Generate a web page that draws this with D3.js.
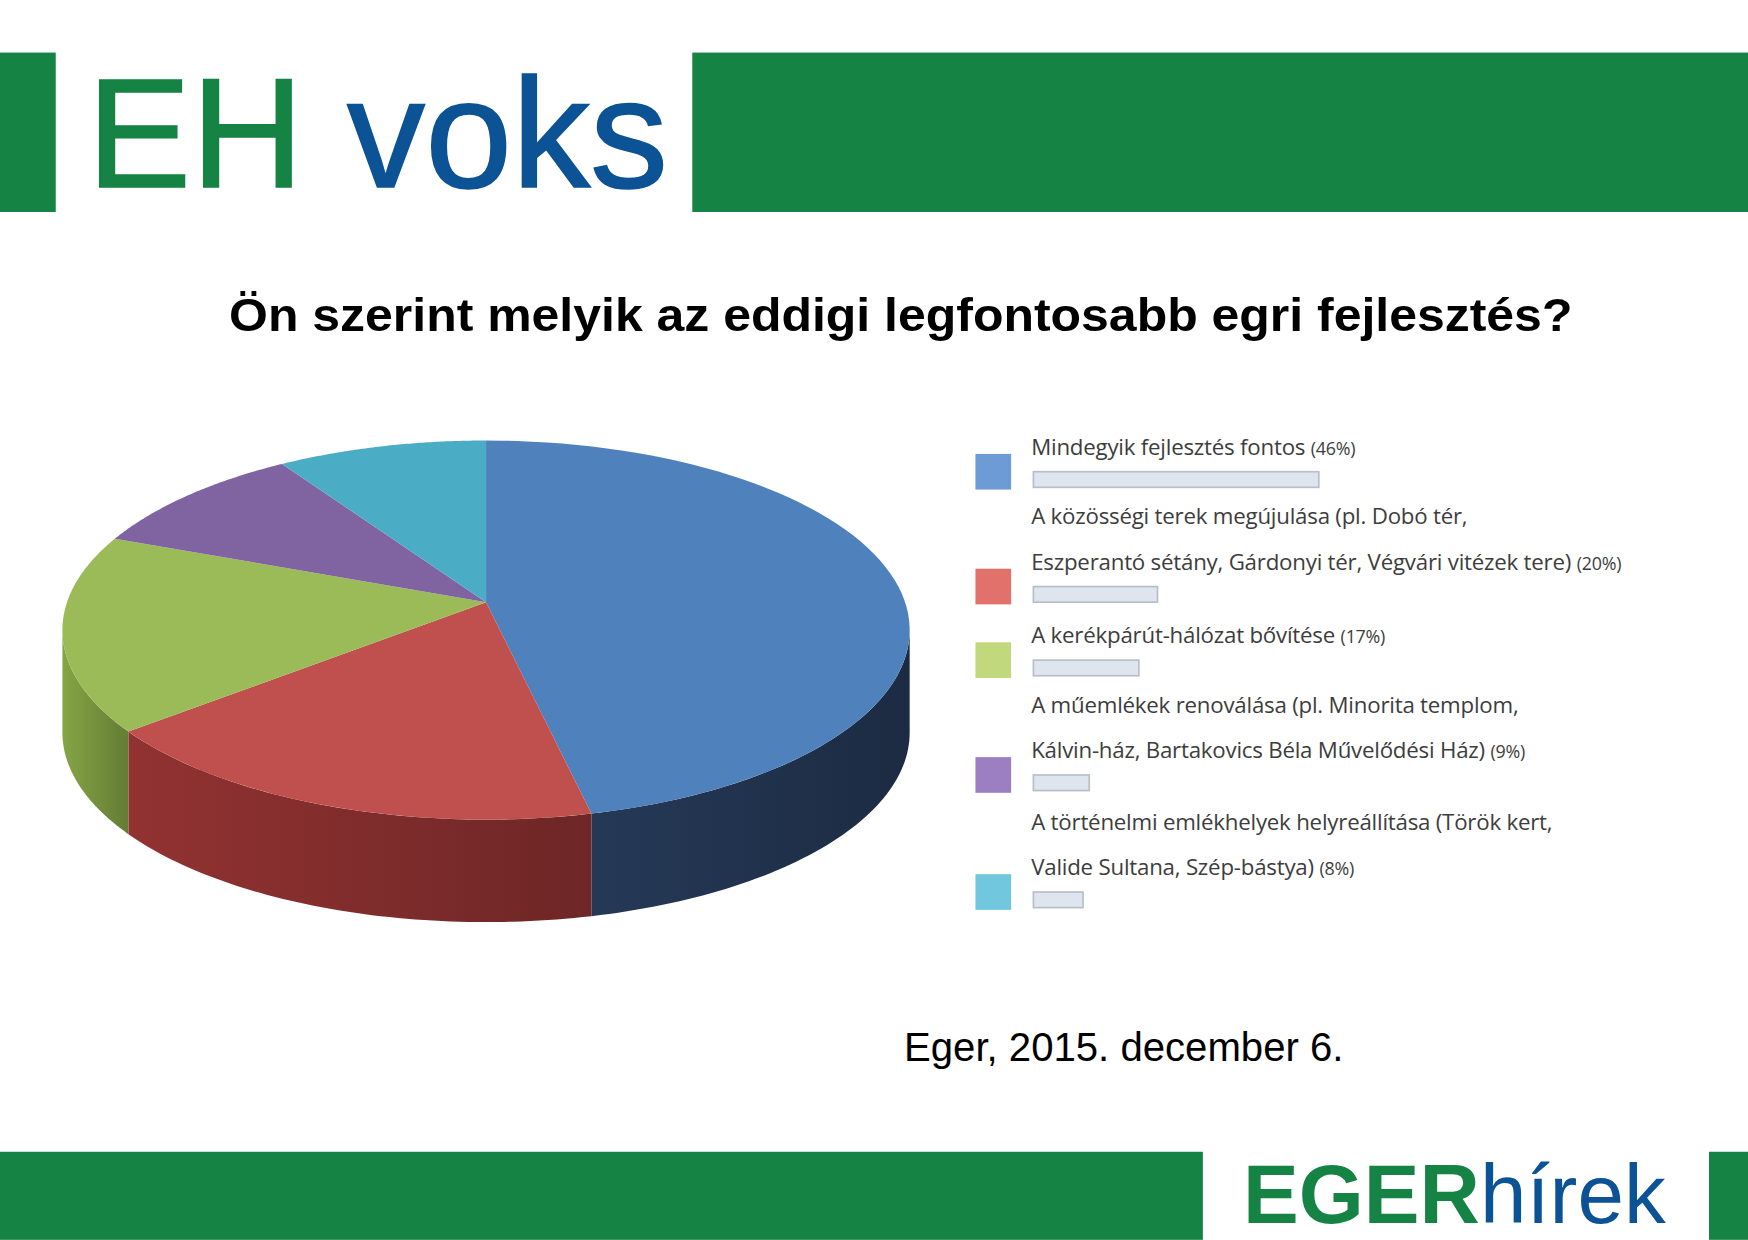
<!DOCTYPE html>
<html><head><meta charset="utf-8">
<script src="https://cdn.jsdelivr.net/npm/d3@7"></script>
<style>body{margin:0;background:#fff}</style>
</head><body>
<svg id="c" width="1748" height="1240" viewBox="0 0 1568 1112"></svg>
<script>
var labels = [
  ["Mindegyik fejlesztés fontos"],
  ["A közösségi terek megújulása (pl. Dobó tér,", "Eszperantó sétány, Gárdonyi tér, Végvári vitézek tere)"],
  ["A kerékpárút-hálózat bővítése"],
  ["A műemlékek renoválása (pl. Minorita templom,", "Kálvin-ház, Bartakovics Béla Művelődési Ház)"],
  ["A történelmi emlékhelyek helyreállítása (Török kert,", "Valide Sultana, Szép-bástya)"]
];
var values = [46, 20, 17, 9, 8];
var topColors = ["#4f81bd", "#c0504d", "#9bbb59", "#8064a2", "#4bacc6"];
var sideColors = ["#1f3049", "#7a2a2a", "#6f8a3a", "#5a4578", "#2f7a8e"];
var keyColors = ["#6d9bd6", "#e2706b", "#c1d97c", "#9b7fc2", "#71c7de"];

var svg = d3.select("#c");
var green = "#148343", blue = "#0b5394";

// header
svg.append("rect").attr("x",0).attr("y",47).attr("width",50).attr("height",143).attr("fill",green);
svg.append("rect").attr("x",621).attr("y",47).attr("width",947).attr("height",143).attr("fill",green);
var h = svg.append("text").attr("x",78).attr("y",168).style("font-family","Liberation Sans, Arial").style("font-size","140px")
  .attr("stroke-width",1.5);
h.append("tspan").attr("fill",green).attr("stroke",green).text("EH ");
h.append("tspan").attr("fill",blue).attr("stroke",blue).text("voks");

svg.append("text").attr("x",808).attr("y",297).attr("text-anchor","middle")
  .attr("textLength",1205).attr("lengthAdjust","spacingAndGlyphs")
  .style("font-family","Liberation Sans, Arial").style("font-weight","bold").style("font-size","42px")
  .text("Ön szerint melyik az eddigi legfontosabb egri fejlesztés?");

// pie
var cx = 436, cy = 565, rx = 380, ry = 170, depth = 92;
var pie = d3.pie().sort(null).value(function(d){return d;});
var arcs = pie(values);
function pt(a, dy){ return [cx + rx*Math.sin(a), cy - ry*Math.cos(a) + (dy||0)]; }
var defs = svg.append("defs");

// sides (front half only)
arcs.forEach(function(a, i){
  var a0 = Math.max(a.startAngle, Math.PI/2), a1 = Math.min(a.endAngle, Math.PI*1.5);
  if (a1 <= a0) return;
  var n = 60, top = [], bot = [];
  for (var k=0;k<=n;k++){ var t = a0 + (a1-a0)*k/n; top.push(pt(t)); bot.push(pt(t, depth)); }
  var g = defs.append("linearGradient").attr("id","sg"+i).attr("gradientUnits","userSpaceOnUse")
    .attr("x1",pt(a1)[0]).attr("x2",pt(a0)[0]).attr("y1",0).attr("y2",0);
  g.append("stop").attr("offset","0").attr("stop-color", d3.color(sideColors[i]).brighter(0.5));
  g.append("stop").attr("offset","1").attr("stop-color", d3.color(sideColors[i]).darker(0.3));
  svg.append("path").attr("d", d3.line()(top.concat(bot.reverse())) + "Z").attr("fill","url(#sg"+i+")");
});
// tops
arcs.forEach(function(a, i){
  var n = 80, p = [[cx, cy - 25]];
  for (var k=0;k<=n;k++) p.push(pt(a.startAngle + (a.endAngle-a.startAngle)*k/n));
  svg.append("path").attr("d", d3.line()(p) + "Z").attr("fill", topColors[i]);
});

// legend
var x = d3.scaleLinear().domain([0, 46]).range([0, 256]);
var lineTop = [401, 463, 570, 632, 737];
var F = "Open Sans, sans-serif";
labels.forEach(function(lines, i){
  var y0 = lineTop[i];
  lines.forEach(function(l, j){
    var t = svg.append("text").attr("x",925).attr("y", y0 + j*41 + 7).attr("fill","#3d3d3d")
      .style("font-family",F).style("font-size","20px").style("letter-spacing","-0.2px").text(l + " ");
    if (j === lines.length-1) t.append("tspan").style("font-size","16px").text("(" + values[i] + "%)");
  });
  var by = y0 + (lines.length-1)*41 + 22;
  svg.append("rect").attr("x",927).attr("y",by).attr("width",x(values[i])).attr("height",14)
    .attr("fill","#dfe5ee").attr("stroke","#b8bec8").attr("stroke-width",1.5);
  svg.append("rect").attr("x",875).attr("y",by-16).attr("width",32).attr("height",32).attr("fill",keyColors[i]);
});

svg.append("text").attr("x",1008).attr("y",952).attr("text-anchor","middle")
  .style("font-family","Liberation Sans, Arial").style("font-size","36px").text("Eger, 2015. december 6.");

// footer
svg.append("rect").attr("x",0).attr("y",1033).attr("width",1079).attr("height",79).attr("fill",green);
svg.append("rect").attr("x",1533).attr("y",1033).attr("width",35).attr("height",79).attr("fill",green);
var f = svg.append("text").attr("x",1115).attr("y",1097).style("font-family","Liberation Sans, Arial").style("font-size","75px");
f.append("tspan").attr("fill",green).style("font-weight","bold").text("EGER");
f.append("tspan").attr("fill",blue).text("hírek");
</script>
</body></html>
